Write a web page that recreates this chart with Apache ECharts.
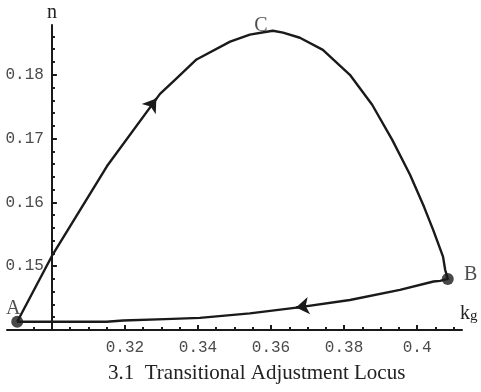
<!DOCTYPE html>
<html>
<head>
<meta charset="utf-8">
<script src="https://cdn.jsdelivr.net/npm/echarts@6/dist/echarts.min.js"></script>
<style>
  html, body { margin: 0; padding: 0; background: #ffffff; }
  #chart { width: 481px; height: 392px; }
</style>
</head>
<body>
<div id="chart"></div>
<script>
// Adjustment locus: path of (k_g, n) from A up through C, down to B and back to A
const kgPath = [0.2905, 0.3000, 0.3151, 0.3296, 0.3337, 0.3396, 0.3488, 0.3542, 0.3584, 0.3605,
                0.3633, 0.3679, 0.3742, 0.3816, 0.3877, 0.3932, 0.3981, 0.4019, 0.4044, 0.4071,
                0.4077, 0.4084, 0.4063, 0.4045, 0.3953, 0.3816, 0.3670, 0.3542, 0.3405, 0.3310,
                0.3195, 0.3150, 0.2905];
const nPath  = [0.1413, 0.1516, 0.1657, 0.1770, 0.1792, 0.1824, 0.1852, 0.1863, 0.1867, 0.1869,
                0.1866, 0.1858, 0.1839, 0.1800, 0.1753, 0.1698, 0.1643, 0.1593, 0.1557, 0.1515,
                0.1494, 0.1480, 0.1477, 0.1476, 0.1463, 0.1447, 0.1435, 0.1426, 0.1419, 0.1417,
                0.1415, 0.1413, 0.1413];

// Labelled states
const pointNames = ['A', 'B', 'C'];
const pointKg    = [0.2905, 0.4084, 0.3605];
const pointN     = [0.1413, 0.1480, 0.1869];

// Direction arrows along the path (from -> to)
const arrowFrom = [[0.32699, 0.17500], [0.36959, 0.14376]];
const arrowTo   = [[0.32860, 0.17627], [0.36685, 0.14353]];

// Axis ticks
const kgTickValues = [0.32, 0.34, 0.36, 0.38, 0.4];
const kgTickLabels = ['0.32', '0.34', '0.36', '0.38', '0.4'];
const nTickValues  = [0.15, 0.16, 0.17, 0.18];
const nTickLabels  = ['0.15', '0.16', '0.17', '0.18'];
const kgMinorStep = 0.005, nMinorStep = 0.002;

// Axes origin and visible ranges
const kgOrigin = 0.30, nOrigin = 0.14;
const kgRange = [0.2877, 0.4123];
const nRange  = [0.14, 0.1878];

const ink = '#1a1a1a';
const grid = { left: 7, right: 19, top: 25, bottom: 62 };
const W = 481 - grid.left - grid.right;
const H = 392 - grid.top - grid.bottom;

function steps(from, to, step) {
  const out = [];
  for (let v = from; v <= to + 1e-9; v += step) out.push(Math.round(v * 10000) / 10000);
  return out;
}
const kgMinor = steps(0.295, 0.41, kgMinorStep);
const nMinor = steps(0.142, 0.186, nMinorStep);
const kgMajor = [kgOrigin].concat(kgTickValues);

function lookup(values, labels) {
  return function (v) {
    for (let i = 0; i < values.length; i++) if (Math.abs(values[i] - v) < 1e-6) return labels[i];
    return '';
  };
}

// y axis sits on kg = kgOrigin, inside the plotting rectangle
const yAxisShift = (kgOrigin - kgRange[0]) / (kgRange[1] - kgRange[0]) * W;

const tickFont = { fontFamily: 'Liberation Mono', fontSize: 16, color: '#4a4a4a' };
const letterFont = { fontFamily: 'Liberation Serif', fontSize: 20, color: '#222' };

const chart = echarts.init(document.getElementById('chart'), null, { renderer: 'canvas' });
chart.setOption({
  animation: false,
  backgroundColor: '#ffffff',
  title: {
    text: '3.1  Transitional Adjustment Locus',
    left: 108, top: 363, padding: 0,
    textStyle: { fontFamily: 'Liberation Serif', fontSize: 21, fontWeight: 'normal', color: '#222' }
  },
  grid: grid,
  xAxis: [
    {
      type: 'value', position: 'bottom', min: kgRange[0], max: kgRange[1],
      axisLine: { show: true, onZero: false, lineStyle: { color: ink, width: 2 } },
      axisTick: { show: true, inside: true, length: 3, customValues: kgMinor, lineStyle: { color: ink, width: 2 } },
      axisLabel: { show: true, margin: 10, customValues: kgTickValues, formatter: lookup(kgTickValues, kgTickLabels), ...tickFont },
      splitLine: { show: false },
      name: '{k|k}{g|g}', nameLocation: 'end', nameGap: -2,
      nameTextStyle: {
        align: 'left', verticalAlign: 'bottom', padding: [0, 0, 6, 0],
        rich: {
          k: { fontFamily: 'Liberation Serif', fontSize: 20, color: '#222', verticalAlign: 'top', lineHeight: 20 },
          g: { fontFamily: 'Liberation Serif', fontSize: 15, color: '#222', verticalAlign: 'bottom', lineHeight: 15 }
        }
      }
    },
    {
      type: 'value', position: 'top', offset: -H, min: kgRange[0], max: kgRange[1],
      axisLine: { show: false, onZero: false },
      axisTick: { show: true, inside: false, length: 5, customValues: kgMajor, lineStyle: { color: ink, width: 2 } },
      axisLabel: { show: false },
      splitLine: { show: false }
    }
  ],
  yAxis: [
    {
      type: 'value', position: 'left', offset: -yAxisShift, min: nRange[0], max: nRange[1],
      axisLine: { show: true, onZero: false, lineStyle: { color: ink, width: 2 } },
      axisTick: { show: true, inside: true, length: 3, customValues: nMinor, lineStyle: { color: ink, width: 2 } },
      axisLabel: { show: true, margin: 8, customValues: nTickValues, formatter: lookup(nTickValues, nTickLabels), ...tickFont },
      splitLine: { show: false },
      name: 'n', nameLocation: 'end', nameGap: 2,
      nameTextStyle: { ...letterFont, align: 'center', verticalAlign: 'bottom' }
    },
    {
      type: 'value', position: 'right', offset: -(W - yAxisShift), min: nRange[0], max: nRange[1],
      axisLine: { show: false, onZero: false },
      axisTick: { show: true, inside: false, length: 5, customValues: nTickValues, lineStyle: { color: ink, width: 2 } },
      axisLabel: { show: false },
      splitLine: { show: false }
    }
  ],
  series: [
    {
      type: 'line',
      data: kgPath.map((k, i) => [k, nPath[i]]),
      showSymbol: false, symbol: 'none', smooth: false, clip: false,
      lineStyle: { color: ink, width: 2.4, join: 'round' },
      silent: true,
      markLine: {
        silent: true,
        symbol: ['none', 'arrow'],
        symbolSize: 13,
        label: { show: false },
        lineStyle: { color: ink, width: 2.4, type: 'solid' },
        data: arrowFrom.map((f, i) => [{ coord: f }, { coord: arrowTo[i] }])
      }
    },
    {
      type: 'scatter',
      data: pointNames.map((name, i) => ({
        name: name,
        value: [pointKg[i], pointN[i]],
        symbolSize: name === 'C' ? 0 : 12,
        label: {
          show: true, position: 'inside', formatter: name, ...letterFont,
          offset: name === 'A' ? [-4, -13] : name === 'B' ? [23, -4] : [-12, -5]
        }
      })),
      itemStyle: { color: ink },
      clip: false,
      silent: true
    }
  ]
});
</script>
</body>
</html>
